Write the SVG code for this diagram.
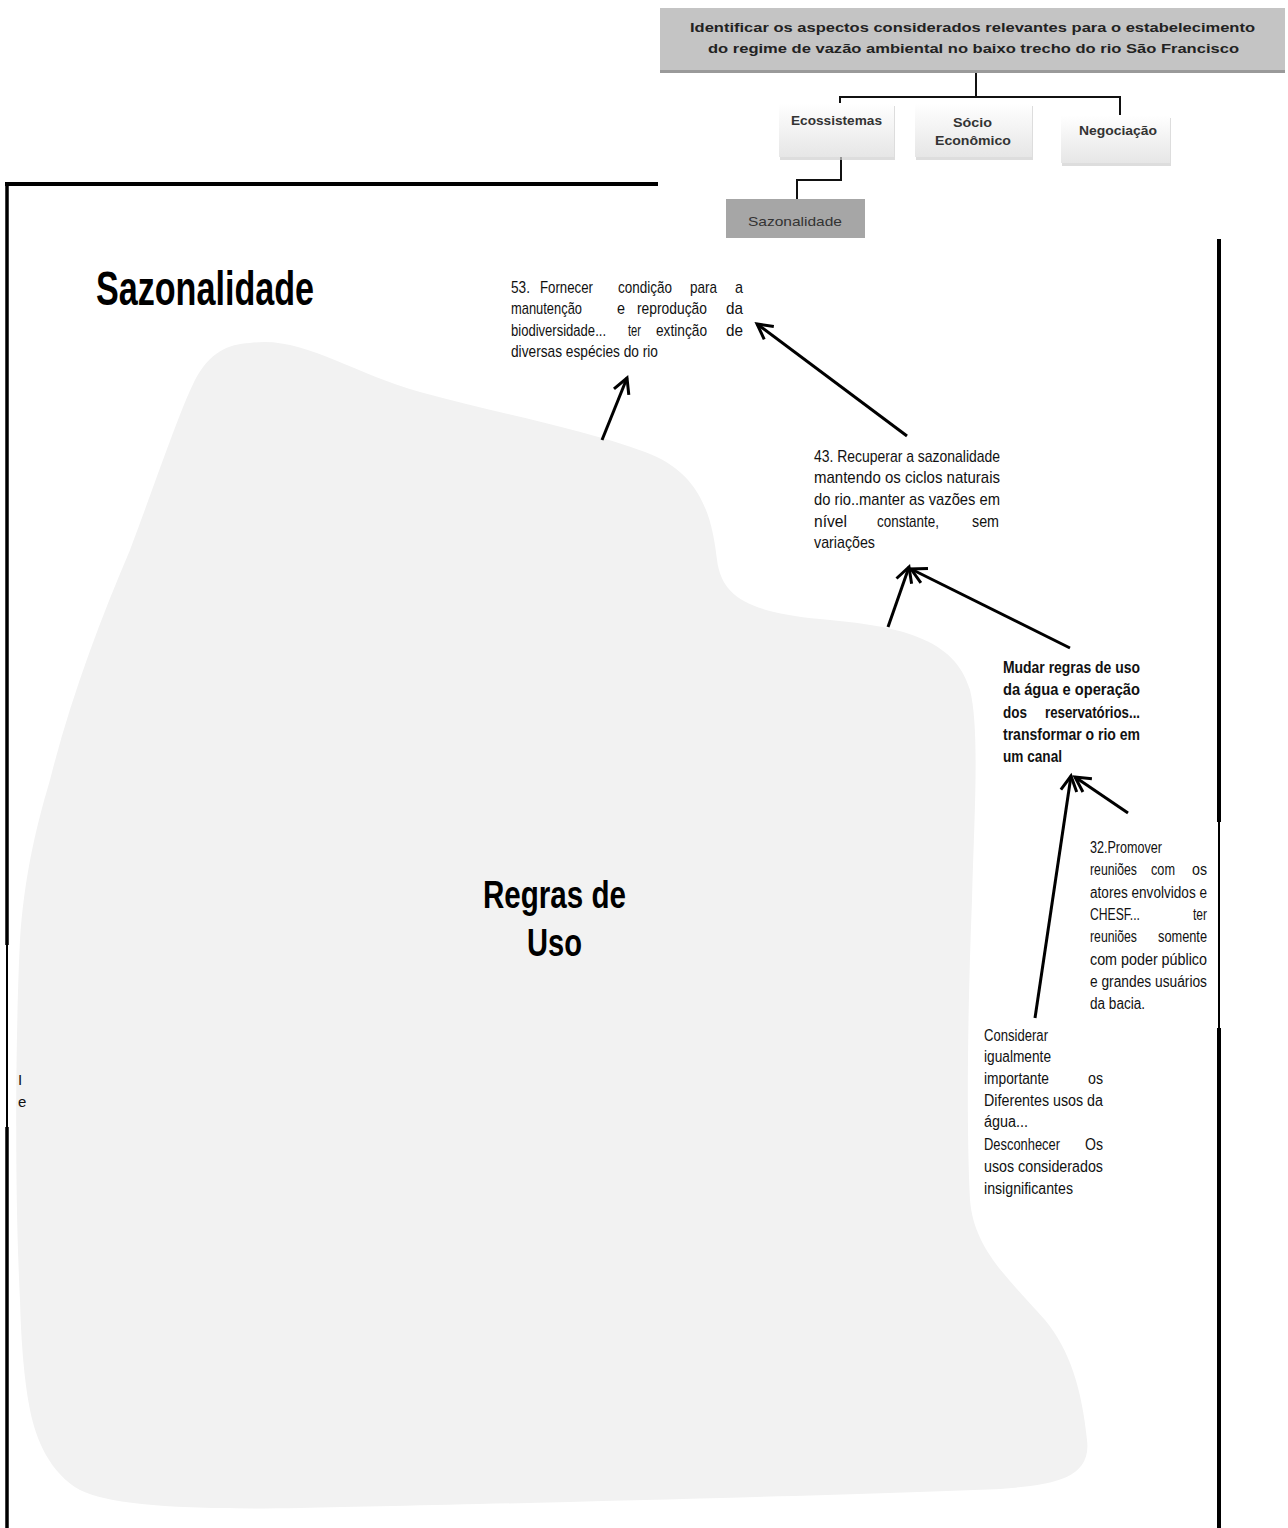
<svg xmlns="http://www.w3.org/2000/svg" width="1288" height="1528" viewBox="0 0 1288 1528">
<defs>
<style>
.t{font-family:"Liberation Sans Narrow","Liberation Sans",Arial,sans-serif;fill:#111}
.n17{font-size:17px}
.n16{font-size:16px}
.b17{font-size:17px;font-weight:bold}
.hd{font-family:"Liberation Sans",Arial,sans-serif;font-weight:bold;font-size:13.5px;fill:#222}
.bx{font-family:"Liberation Sans",Arial,sans-serif;font-weight:bold;font-size:12px;fill:#333}
.big{font-family:"Liberation Sans",Arial,sans-serif;font-weight:bold;fill:#000}
.ln{stroke:#000;stroke-width:3;fill:none;marker-end:url(#ah)}
.cn{stroke:#111;stroke-width:2;fill:none}
.fr{stroke:#000;fill:none}
</style>
<marker id="ah" viewBox="-18 -11 22 22" refX="0" refY="0" markerWidth="22" markerHeight="22" orient="auto" markerUnits="userSpaceOnUse">
<path d="M-15,-8 L0,0 L-15,8" fill="none" stroke="#000" stroke-width="3" stroke-linejoin="miter"/>
</marker>
<linearGradient id="wg" x1="0" y1="0" x2="0" y2="1">
<stop offset="0" stop-color="#ffffff"/>
<stop offset="1" stop-color="#e6e6e6"/>
</linearGradient>
</defs>
<rect width="1288" height="1528" fill="#fff"/>

<g id="blob">
<path d="M250,343 C300,335 350,372 420,392 C500,414 580,428 645,452 C700,472 712,515 717,560 C722,598 750,612 820,619 C900,626 955,638 970,690 C980,730 974,820 972,900 C968,1000 966,1120 970,1200 C974,1250 1010,1280 1045,1320 C1070,1350 1082,1390 1087,1440 C1092,1480 1050,1485 1000,1489 C800,1497 450,1505 300,1508 C180,1510 110,1505 80,1490 C50,1473 36,1440 30,1410 C24,1380 21,1340 20,1300 C14,1180 16,1020 20,940 C24,880 35,830 50,780 C70,700 100,620 130,550 C160,470 180,410 195,380 C210,352 228,344 250,343 Z" fill="#f2f2f2"/>
</g>

<g id="frame">
<line class="fr" x1="5" y1="184" x2="658" y2="184" stroke-width="4"/>
<line class="fr" x1="7" y1="182" x2="7" y2="945" stroke-width="3.5"/>
<line class="fr" x1="7" y1="945" x2="7" y2="1127" stroke-width="2"/>
<line class="fr" x1="7" y1="1127" x2="7" y2="1528" stroke-width="3.5"/>
<line class="fr" x1="1219" y1="239" x2="1219" y2="822" stroke-width="4"/>
<line class="fr" x1="1219" y1="822" x2="1219" y2="1028" stroke-width="2"/>
<line class="fr" x1="1219" y1="1028" x2="1219" y2="1528" stroke-width="4"/>
</g>

<g id="header-connectors">
<path class="cn" d="M976,70 L976,97 M840,107 L840,97 L1120,97 L1120,115"/>
<path class="cn" d="M841,157 L841,180 L797,180 L797,200"/>
</g>

<g id="header">
<rect x="660" y="11" width="625" height="62" fill="#9a9a9a"/>
<rect x="660" y="8" width="625" height="62" fill="#c4c4c4"/>
<text class="hd" x="690" y="32" textLength="565" lengthAdjust="spacingAndGlyphs">Identificar os aspectos considerados relevantes para o estabelecimento</text>
<text class="hd" x="708" y="53" textLength="531" lengthAdjust="spacingAndGlyphs">do regime de vazão ambiental no baixo trecho do rio São Francisco</text>
</g>

<g id="ecossistemas">
<rect x="780" y="106" width="115" height="54" fill="#cfcfcf" opacity="0.7"/>
<rect x="779" y="103" width="115" height="54" fill="url(#wg)"/>
<text class="bx" x="791" y="125" textLength="91" lengthAdjust="spacingAndGlyphs">Ecossistemas</text>
</g>
<g id="socio">
<rect x="916" y="106" width="117" height="54" fill="#cfcfcf" opacity="0.7"/>
<rect x="915" y="103" width="117" height="54" fill="url(#wg)"/>
<text class="bx" x="953" y="127" textLength="39" lengthAdjust="spacingAndGlyphs">Sócio</text>
<text class="bx" x="935" y="145" textLength="76" lengthAdjust="spacingAndGlyphs">Econômico</text>
</g>
<g id="negociacao">
<rect x="1062" y="118" width="109" height="48" fill="#cfcfcf" opacity="0.7"/>
<rect x="1061" y="115" width="109" height="48" fill="url(#wg)"/>
<text class="bx" x="1079" y="135" textLength="78" lengthAdjust="spacingAndGlyphs">Negociação</text>
</g>
<g id="sazonalidade-box">
<rect x="726" y="199" width="139" height="39" fill="#a6a6a6"/>
<text x="748" y="226" font-family="Liberation Sans, Arial, sans-serif" font-size="13" fill="#333" textLength="94" lengthAdjust="spacingAndGlyphs">Sazonalidade</text>
</g>

<g id="title">
<text class="big" x="96" y="305" font-size="48" textLength="218" lengthAdjust="spacingAndGlyphs">Sazonalidade</text>
</g>
<g id="regras">
<text class="big" x="483" y="908" font-size="39" textLength="143" lengthAdjust="spacingAndGlyphs">Regras de</text>
<text class="big" x="527" y="956" font-size="39" textLength="55" lengthAdjust="spacingAndGlyphs">Uso</text>
</g>

<g id="n53" class="t n17">
<text x="511" y="293" textLength="19" lengthAdjust="spacingAndGlyphs">53.</text>
<text x="540" y="293" textLength="53" lengthAdjust="spacingAndGlyphs">Fornecer</text>
<text x="618" y="293" textLength="54" lengthAdjust="spacingAndGlyphs">condição</text>
<text x="690" y="293" textLength="27" lengthAdjust="spacingAndGlyphs">para</text>
<text x="735" y="293" textLength="8" lengthAdjust="spacingAndGlyphs">a</text>
<text x="511" y="314" textLength="71" lengthAdjust="spacingAndGlyphs">manutenção</text>
<text x="617" y="314" textLength="8" lengthAdjust="spacingAndGlyphs">e</text>
<text x="637" y="314" textLength="70" lengthAdjust="spacingAndGlyphs">reprodução</text>
<text x="726" y="314" textLength="17" lengthAdjust="spacingAndGlyphs">da</text>
<text x="511" y="336" style="font-size:16px" textLength="95" lengthAdjust="spacingAndGlyphs">biodiversidade...</text>
<text x="628" y="336" textLength="13" lengthAdjust="spacingAndGlyphs">ter</text>
<text x="656" y="336" textLength="51" lengthAdjust="spacingAndGlyphs">extinção</text>
<text x="726" y="336" textLength="17" lengthAdjust="spacingAndGlyphs">de</text>
<text x="511" y="357" textLength="147" lengthAdjust="spacingAndGlyphs">diversas espécies do rio</text>
</g>

<g id="n43" class="t n17">
<text x="814" y="462" textLength="186" lengthAdjust="spacingAndGlyphs">43. Recuperar a sazonalidade</text>
<text x="814" y="483" textLength="186" lengthAdjust="spacingAndGlyphs">mantendo os ciclos naturais</text>
<text x="814" y="505" textLength="186" lengthAdjust="spacingAndGlyphs">do rio..manter as vazões em</text>
<text x="814" y="527" textLength="33" lengthAdjust="spacingAndGlyphs">nível</text>
<text x="877" y="527" textLength="62" lengthAdjust="spacingAndGlyphs">constante,</text>
<text x="972" y="527" textLength="27" lengthAdjust="spacingAndGlyphs">sem</text>
<text x="814" y="548" textLength="61" lengthAdjust="spacingAndGlyphs">variações</text>
</g>

<g id="mudar" class="t b17">
<text x="1003" y="673" textLength="137" lengthAdjust="spacingAndGlyphs">Mudar regras de uso</text>
<text x="1003" y="695" textLength="137" lengthAdjust="spacingAndGlyphs">da água e operação</text>
<text x="1003" y="718" textLength="24" lengthAdjust="spacingAndGlyphs">dos</text>
<text x="1045" y="718" textLength="95" lengthAdjust="spacingAndGlyphs">reservatórios...</text>
<text x="1003" y="740" textLength="137" lengthAdjust="spacingAndGlyphs">transformar o rio em</text>
<text x="1003" y="762" textLength="59" lengthAdjust="spacingAndGlyphs">um canal</text>
</g>

<g id="n32" class="t n16">
<text x="1090" y="853" textLength="72" lengthAdjust="spacingAndGlyphs">32.Promover</text>
<text x="1090" y="875" textLength="47" lengthAdjust="spacingAndGlyphs">reuniões</text>
<text x="1151" y="875" textLength="24" lengthAdjust="spacingAndGlyphs">com</text>
<text x="1192" y="875" textLength="15" lengthAdjust="spacingAndGlyphs">os</text>
<text x="1090" y="898" textLength="117" lengthAdjust="spacingAndGlyphs">atores envolvidos e</text>
<text x="1090" y="920" textLength="50" lengthAdjust="spacingAndGlyphs">CHESF...</text>
<text x="1193" y="920" textLength="14" lengthAdjust="spacingAndGlyphs">ter</text>
<text x="1090" y="942" textLength="47" lengthAdjust="spacingAndGlyphs">reuniões</text>
<text x="1158" y="942" textLength="49" lengthAdjust="spacingAndGlyphs">somente</text>
<text x="1090" y="965" textLength="117" lengthAdjust="spacingAndGlyphs">com poder público</text>
<text x="1090" y="987" textLength="117" lengthAdjust="spacingAndGlyphs">e grandes usuários</text>
<text x="1090" y="1009" textLength="55" lengthAdjust="spacingAndGlyphs">da bacia.</text>
</g>

<g id="considerar" class="t n16">
<text x="984" y="1041" textLength="64" lengthAdjust="spacingAndGlyphs">Considerar</text>
<text x="984" y="1062" textLength="67" lengthAdjust="spacingAndGlyphs">igualmente</text>
<text x="984" y="1084" textLength="65" lengthAdjust="spacingAndGlyphs">importante</text>
<text x="1088" y="1084" textLength="15" lengthAdjust="spacingAndGlyphs">os</text>
<text x="984" y="1106" textLength="119" lengthAdjust="spacingAndGlyphs">Diferentes usos da</text>
<text x="984" y="1127" textLength="44" lengthAdjust="spacingAndGlyphs">água...</text>
<text x="984" y="1150" textLength="76" lengthAdjust="spacingAndGlyphs">Desconhecer</text>
<text x="1085" y="1150" textLength="18" lengthAdjust="spacingAndGlyphs">Os</text>
<text x="984" y="1172" textLength="119" lengthAdjust="spacingAndGlyphs">usos considerados</text>
<text x="984" y="1194" textLength="89" lengthAdjust="spacingAndGlyphs">insignificantes</text>
</g>

<g id="fragments" class="t" font-size="15">
<text x="18" y="1085">I</text>
<text x="18" y="1107">e</text>
</g>

<g id="connectors">
<line class="ln" x1="602" y1="440" x2="627" y2="378"/>
<line class="ln" x1="907" y1="436" x2="757" y2="324"/>
<line class="ln" x1="888" y1="627" x2="909" y2="567"/>
<line class="ln" x1="1070" y1="648" x2="911" y2="569"/>
<line class="ln" x1="1035" y1="1018" x2="1071" y2="776"/>
<line class="ln" x1="1128" y1="813" x2="1075" y2="777"/>
</g>
</svg>
